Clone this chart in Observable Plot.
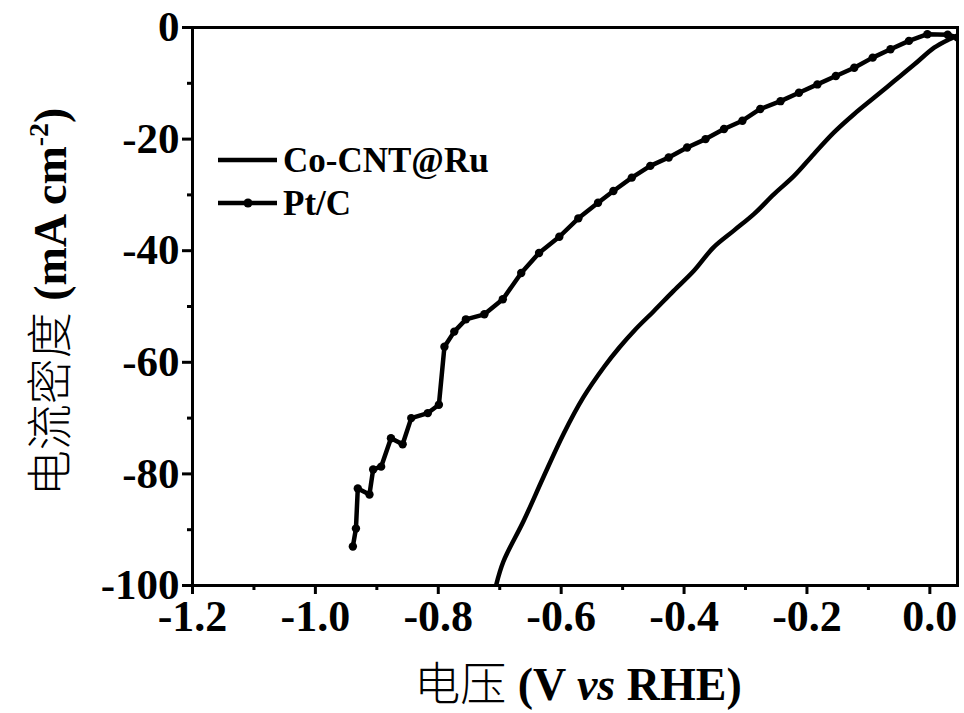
<!DOCTYPE html>
<html>
<head>
<meta charset="utf-8">
<script src="https://cdn.jsdelivr.net/npm/d3@7"></script>
<script src="https://cdn.jsdelivr.net/npm/@observablehq/plot@0.6"></script>
<style>
  html, body { margin: 0; padding: 0; background: white; }
</style>
</head>
<body>
<div id="chart"></div>
<script>
// Series names
const seriesNames = ["Co-CNT@Ru", "Pt/C"];

// Co-CNT@Ru: potential (V vs RHE) and current density (mA cm^-2)
const coX = [-0.706, -0.694, -0.661, -0.629, -0.596, -0.564, -0.530, -0.505, -0.480, -0.449, -0.417, -0.384, -0.352, -0.319, -0.286, -0.254, -0.221, -0.189, -0.156, -0.123, -0.091, -0.058, -0.025, 0.007, 0.030, 0.045];
const coY = [-100, -95.7, -88.4, -80.6, -72.8, -66.3, -60.8, -57.3, -54.2, -50.8, -47.2, -43.6, -39.4, -36.4, -33.4, -29.9, -26.6, -22.7, -18.8, -15.5, -12.6, -9.6, -6.6, -3.6, -2.2, -1.5];

// Pt/C
const ptX = [-0.939, -0.934, -0.931, -0.912, -0.906, -0.893, -0.877, -0.858, -0.844, -0.817, -0.799, -0.790, -0.774, -0.755, -0.725, -0.695, -0.665, -0.636, -0.603, -0.572, -0.540, -0.515, -0.485, -0.455, -0.425, -0.395, -0.365, -0.335, -0.305, -0.276, -0.243, -0.213, -0.183, -0.153, -0.123, -0.093, -0.064, -0.034, -0.004, 0.029, 0.045];
const ptY = [-93.0, -89.8, -82.6, -83.7, -79.2, -78.7, -73.6, -74.7, -70.0, -69.1, -67.6, -57.2, -54.5, -52.3, -51.4, -48.7, -44.0, -40.4, -37.5, -34.2, -31.4, -29.3, -26.9, -24.8, -23.3, -21.5, -20.0, -18.2, -16.7, -14.6, -13.2, -11.7, -10.2, -8.7, -7.2, -5.4, -3.9, -2.4, -1.2, -1.3, -1.8];

// Tick values and labels
const xTicks = [-1.2, -1.0, -0.8, -0.6, -0.4, -0.2, 0.0];
const xTickLabels = ["-1.2", "-1.0", "-0.8", "-0.6", "-0.4", "-0.2", "0.0"];
const xMinorTicks = [-1.1, -0.9, -0.7, -0.5, -0.3, -0.1];
const yTicks = [0, -20, -40, -60, -80, -100];
const yTickLabels = ["0", "-20", "-40", "-60", "-80", "-100"];
const yMinorTicks = [-10, -30, -50, -70, -90];

const co = coX.map((x, i) => ({x, y: coY[i]}));
const pt = ptX.map((x, i) => ({x, y: ptY[i]}));

const serif = "'Liberation Serif', 'Times New Roman', serif";
const cjk = "'Noto Sans CJK SC', sans-serif";

const svg = Plot.plot({
  width: 964,
  height: 713,
  marginLeft: 192,
  marginRight: 7,
  marginTop: 27,
  marginBottom: 128,
  x: {domain: [-1.2, 0.045]},
  y: {domain: [-100, 0]},
  style: {fontFamily: serif, fontWeight: "bold", background: "white", color: "black"},
  marks: [
    Plot.axisX({ticks: xTicks, tickFormat: d => xTickLabels[xTicks.indexOf(d)], tickSize: 9, tickPadding: 5, strokeWidth: 3, fontSize: 44, label: null}),
    Plot.axisX({ticks: xMinorTicks, tickSize: 5, strokeWidth: 3, text: null, label: null}),
    Plot.axisY({ticks: yTicks, tickFormat: d => yTickLabels[yTicks.indexOf(d)], tickSize: 10, tickPadding: 3, strokeWidth: 3, fontSize: 43, label: null}),
    Plot.axisY({ticks: yMinorTicks, tickSize: 5, strokeWidth: 3, text: null, label: null}),
    Plot.line(co, {x: "x", y: "y", stroke: "black", strokeWidth: 4.5, curve: "catmull-rom", clip: true}),
    Plot.line(pt, {x: "x", y: "y", stroke: "black", strokeWidth: 4.5, clip: true}),
    Plot.dot(pt, {x: "x", y: "y", r: 4.2, fill: "black", clip: true}),
    Plot.frame({stroke: "black", strokeWidth: 3})
  ]
});

const s = d3.select(svg);

// X axis title
const xt = s.append("text")
  .attr("x", 578).attr("y", 700)
  .attr("text-anchor", "middle")
  .attr("font-size", 46)
  .attr("fill", "black");
xt.append("tspan").attr("font-family", cjk).attr("font-weight", 300).text("电压");
xt.append("tspan").attr("font-family", serif).attr("font-weight", "bold").text(" (V ");
xt.append("tspan").attr("font-family", serif).attr("font-weight", "bold").attr("font-style", "italic").text("vs");
xt.append("tspan").attr("font-family", serif).attr("font-weight", "bold").text(" RHE)");

// Y axis title
const yt = s.append("text")
  .attr("transform", "translate(66,302) rotate(-90)")
  .attr("text-anchor", "middle")
  .attr("font-size", 46)
  .attr("fill", "black");
yt.append("tspan").attr("font-family", cjk).attr("font-weight", 300).text("电流密度");
yt.append("tspan").attr("font-family", serif).attr("font-weight", "bold").text(" (mA cm");
yt.append("tspan").attr("font-family", serif).attr("font-weight", "bold").attr("font-size", 28).attr("dy", -18).text("-2");
yt.append("tspan").attr("font-family", serif).attr("font-weight", "bold").attr("dy", 18).text(")");

// Legend
const legendRows = [{name: seriesNames[0], y: 160, marker: false}, {name: seriesNames[1], y: 203, marker: true}];
for (const r of legendRows) {
  s.append("line").attr("x1", 218).attr("x2", 277).attr("y1", r.y).attr("y2", r.y)
    .attr("stroke", "black").attr("stroke-width", 4.5);
  if (r.marker) s.append("circle").attr("cx", 248).attr("cy", r.y).attr("r", 4.5).attr("fill", "black");
  s.append("text").attr("x", 283).attr("y", r.y).attr("dy", "0.35em")
    .attr("text-anchor", "start")
    .attr("font-family", serif).attr("font-weight", "bold").attr("font-size", 35)
    .attr("fill", "black").text(r.name);
}

document.getElementById("chart").appendChild(svg);
</script>
</body>
</html>
